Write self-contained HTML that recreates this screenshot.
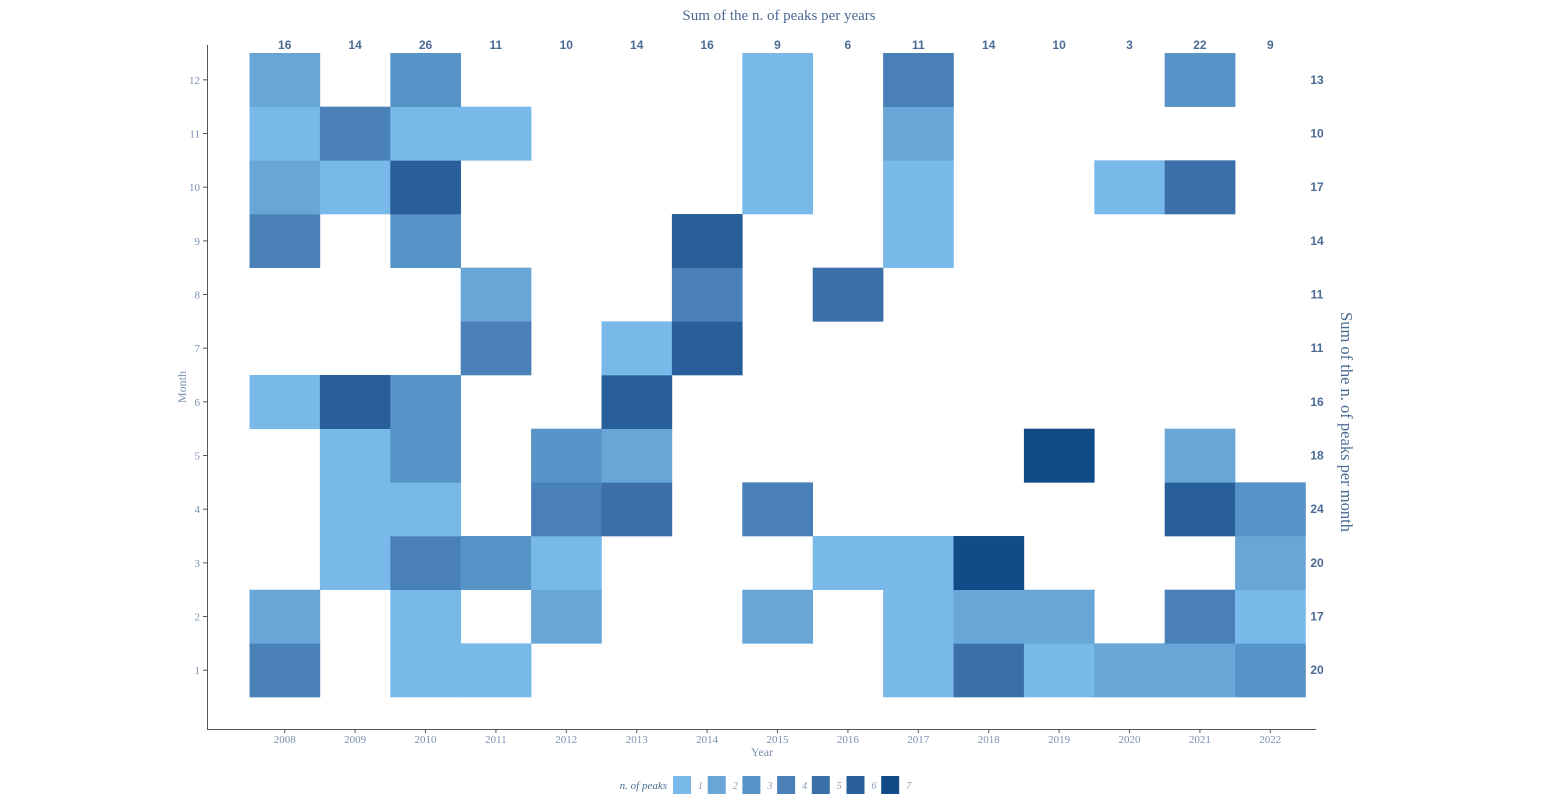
<!DOCTYPE html>
<html><head><meta charset="utf-8"><style>
html,body{margin:0;padding:0;background:#fff;}
svg{display:block;}
</style></head><body>
<svg id="s" width="1559" height="807" xmlns="http://www.w3.org/2000/svg" font-family="Liberation Serif, serif">
<text x="779" y="20" text-anchor="middle" font-size="15" fill="#4a6a93">Sum of the n. of peaks per years</text>
<line x1="207.5" y1="45" x2="207.5" y2="729" stroke="#555" stroke-width="1"/>
<line x1="207" y1="729.5" x2="1316" y2="729.5" stroke="#555" stroke-width="1"/>
<text x="186" y="387" font-size="12" fill="#7a8fb0" text-anchor="middle" transform="rotate(-90 186 387)">Month</text>
<text x="762" y="756" font-size="12" fill="#7a8fb0" text-anchor="middle">Year</text>
<text x="1341" y="422" font-size="16.5" fill="#4a6a93" text-anchor="middle" transform="rotate(90 1341 422)">Sum of the n. of peaks per month</text>
<g id="cells"></g>
<g id="lbl"></g>
<text x="667" y="789" font-size="11" font-style="italic" fill="#4a6a93" text-anchor="end">n. of peaks</text>
<g id="leg"></g>
</svg>
<script>
var C=["","#79b9ea","#68a6d8","#5693c7","#4a80b8","#3a6fa8","#285f9a","#114c89"];
var D={12:{2008:2,2010:3,2015:1,2017:4,2021:3},
11:{2008:1,2009:4,2010:1,2011:1,2015:1,2017:2},
10:{2008:2,2009:1,2010:6,2015:1,2017:1,2020:1,2021:5},
9:{2008:4,2010:3,2014:6,2017:1},
8:{2011:2,2014:4,2016:5},
7:{2011:4,2013:1,2014:6},
6:{2008:1,2009:6,2010:3,2013:6},
5:{2009:1,2010:3,2012:3,2013:2,2019:7,2021:2},
4:{2009:1,2010:1,2012:4,2013:5,2015:4,2021:6,2022:3},
3:{2009:1,2010:4,2011:3,2012:1,2016:1,2017:1,2018:7,2022:2},
2:{2008:2,2010:1,2012:2,2015:2,2017:1,2018:2,2019:2,2021:4,2022:1},
1:{2008:4,2010:1,2011:1,2017:1,2018:5,2019:1,2020:2,2021:2,2022:3}};
var NS="http://www.w3.org/2000/svg";
function el(p,t,a,txt){var e=document.createElementNS(NS,t);for(var k in a)e.setAttribute(k,a[k]);if(txt!==undefined)e.textContent=txt;p.appendChild(e);return e;}
var cg=document.getElementById("cells"),lg=document.getElementById("lbl"),leg=document.getElementById("leg");
var x0=249.5,w=70.4,y0=53,h=53.67;
var colSum={},rowSum={};
for(var m=1;m<=12;m++){for(var yr in D[m]){var v=D[m][yr];var i=yr-2008;
el(cg,"rect",{x:x0+i*w,y:y0+(12-m)*h,width:w+0.3,height:h+0.3,fill:C[v]});
colSum[yr]=(colSum[yr]||0)+v;rowSum[m]=(rowSum[m]||0)+v;}}
for(var i=0;i<15;i++){var cx=x0+i*w+w/2;var yr=2008+i;
el(lg,"line",{x1:cx,y1:729,x2:cx,y2:733,stroke:"#555"});
el(lg,"text",{x:cx,y:743,"font-size":11,fill:"#7a8fb0","text-anchor":"middle"},yr);
el(lg,"text",{x:cx,y:49,"font-size":12,"font-weight":"bold","font-family":"Liberation Sans, sans-serif",fill:"#4a6a93","text-anchor":"middle"},colSum[yr]);}
for(var m=1;m<=12;m++){var cy=y0+(12-m)*h+h/2;
el(lg,"line",{x1:203,y1:cy,x2:207,y2:cy,stroke:"#555"});
el(lg,"text",{x:200,y:cy+4,"font-size":11,fill:"#7a8fb0","text-anchor":"end"},m);
el(lg,"text",{x:1317,y:cy+4,"font-size":12,"font-weight":"bold","font-family":"Liberation Sans, sans-serif",fill:"#4a6a93","text-anchor":"middle"},rowSum[m]);}
for(var k=1;k<=7;k++){var lx=673+(k-1)*34.7;
el(leg,"rect",{x:lx,y:776,width:18,height:18,fill:C[k]});
el(leg,"text",{x:lx+25,y:789,"font-size":10,"font-style":"italic",fill:"#8a9ab5"},k);}
</script>
</body></html>
